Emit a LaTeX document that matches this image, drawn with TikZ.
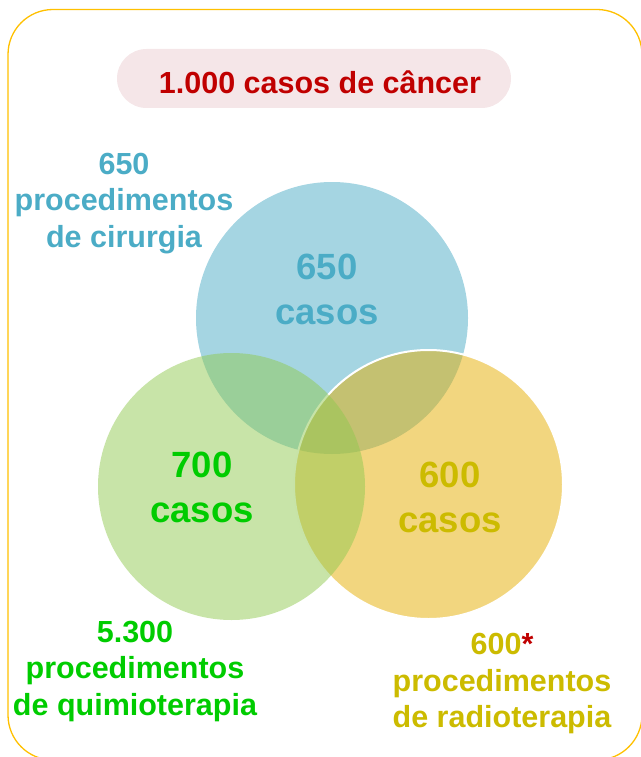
\documentclass[tikz,border=0pt]{standalone}
\usepackage{fontspec}
\setmainfont{Liberation Sans}
\definecolor{frameyellow}{RGB}{255,192,0}
\definecolor{pillpink}{RGB}{245,230,232}
\definecolor{titlered}{RGB}{192,0,0}
\definecolor{blueset}{RGB}{75,172,198}
\definecolor{greenset}{RGB}{145,201,81}
\definecolor{yellowset}{RGB}{229,173,0}
\definecolor{bluetext}{RGB}{75,172,198}
\definecolor{greentext}{RGB}{0,204,0}
\definecolor{yellowtext}{RGB}{204,187,0}
\begin{document}
\begin{tikzpicture}[x=1pt,y=-1pt,
  frame/.style={draw=frameyellow, line width=1.3pt, rounded corners=45pt},
  pill/.style={fill=pillpink, rounded corners=29.5pt, minimum width=394pt, minimum height=59pt, inner sep=0pt},
  setcircle/.style={circle, inner sep=0pt, outer sep=0pt, fill opacity=0.5},
  lbl/.style={align=center, inner sep=0pt, font=\bfseries\fontsize{30.5}{36.5}\selectfont},
  incirc/.style={align=center, inner sep=0pt, font=\bfseries\fontsize{36.5}{45}\selectfont},
]
\useasboundingbox (0,0) rectangle (640,757);
\draw[frame] (8,9.5) rectangle (642,760);
\node[pill] (pill) at (314,78.5) {};
\node[inner sep=0pt, font=\bfseries\fontsize{30.5}{36}\selectfont, text=titlered] (title) at (320,82) {1.000 casos de câncer};
% sets
\node[setcircle, fill=blueset, minimum size=272pt] (cirurgia) at (332,318) {};
\node[setcircle, fill=yellowset, draw=white, line width=2pt, minimum size=269pt] (radio) at (428.5,484.5) {};
\node[setcircle, fill=greenset, minimum size=267pt] (quimio) at (231.5,486.5) {};
% texts in sets
\node[incirc, text=bluetext] (t650) at (327,289.8) {650\\casos};
\node[incirc, text=greentext] (t700) at (202,487.8) {700\\casos};
\node[incirc, text=yellowtext] (t600) at (450,497.8) {600\\casos};
% outer labels
\node[lbl, text=bluetext] (lsurg) at (124,203.4) {650\\procedimentos\\de cirurgia};
\node[lbl, text=greentext] (lchemo) at (135,671.4) {5.300\\procedimentos\\de quimioterapia};
\node[lbl, text=yellowtext] (lradio) at (502,683.9) {600\textcolor{titlered}{*}\\procedimentos\\de radioterapia};
\end{tikzpicture}
\end{document}
